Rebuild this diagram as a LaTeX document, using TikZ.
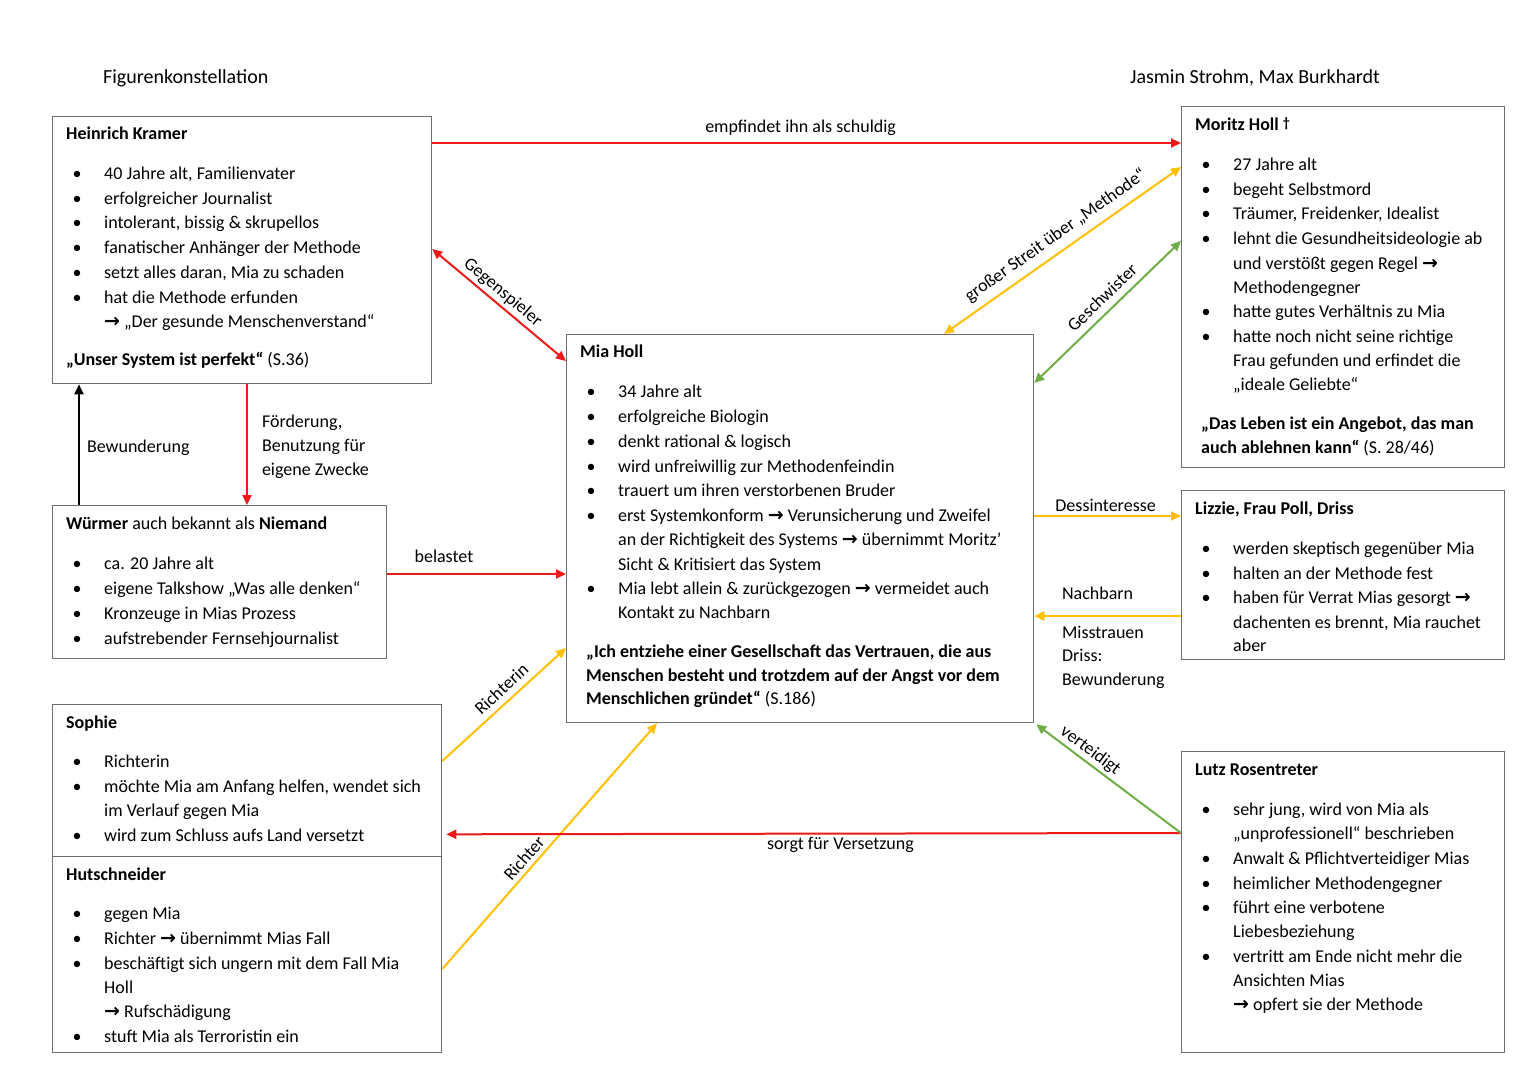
\documentclass[tikz,border=0pt]{standalone}
\usepackage{fontspec}
\setmainfont{Carlito}
\newfontfamily\djv{DejaVu Sans}
\usetikzlibrary{arrows.meta}
\definecolor{cred}{RGB}{238,26,26}
\definecolor{cyel}{RGB}{255,192,0}
\definecolor{cgrn}{RGB}{112,173,71}
\definecolor{cbox}{RGB}{110,110,110}
\newcommand\fs{\fontsize{18}{24.5}\selectfont}
\newcommand\arr{{\djv\bfseries\fontsize{19}{19}\selectfont →}}
\newcounter{tn}
\newcommand\Ttl[3]{\stepcounter{tn}\node[txt,font=\fs\bfseries] (t\arabic{tn}) at (#1+14,#2) {#3};}
\newcommand\Bul[3]{\stepcounter{tn}\node[txt,anchor=base] (b\arabic{tn}) at (#1+25,#2) {\textbullet};\node[txt] (t\arabic{tn}) at (#1+52,#2) {#3};}
\newcommand\Con[3]{\stepcounter{tn}\node[txt] (t\arabic{tn}) at (#1+52,#2) {#3};}
\newcommand\Quo[3]{\stepcounter{tn}\node[txt] (t\arabic{tn}) at (#1,#2) {#3};}
\begin{document}
\begin{tikzpicture}[x=1pt,y=-1pt,
  txt/.style={inner sep=0, anchor=base west, font=\fs, text=black},
  lab/.style={inner sep=0, font=\fs, text=black},
  box/.style={draw=cbox, line width=1.3pt, inner sep=0, anchor=north west},
  conn/.style={line width=2pt, -{Triangle[length=10pt,width=9pt]}},
  bi/.style={line width=2pt, {Triangle[length=10pt,width=9pt]}-{Triangle[length=10pt,width=9pt]}}]
\fill[white] (0,0) rectangle (1527,1080);
\useasboundingbox (0,0) rectangle (1527,1080);

% header
\node[lab, anchor=base west, font=\fontsize{20}{24}\selectfont] (h1) at (103,83) {Figurenkonstellation};
\node[lab, anchor=base west, font=\fontsize{20}{24}\selectfont] (h2) at (1130,83) {Jasmin Strohm, Max Burkhardt};

% boxes
\node[box, minimum width=379pt, minimum height=267pt] (hk) at (52,116) {};
\node[box, minimum width=323pt, minimum height=361pt] (mh) at (1181,106) {};
\node[box, minimum width=467pt, minimum height=388pt] (mia) at (566,334) {};
\node[box, minimum width=334pt, minimum height=153pt] (wu) at (52,505) {};
\node[box, minimum width=323pt, minimum height=169pt] (lz) at (1181,490) {};
\node[box, minimum width=389pt, minimum height=152pt] (so) at (52,704) {};
\node[box, minimum width=389pt, minimum height=196pt] (hu) at (52,856) {};
\node[box, minimum width=323pt, minimum height=301pt] (lu) at (1181,751) {};

% Heinrich Kramer
\Ttl{52}{139}{Heinrich Kramer}
\Bul{52}{179}{40 Jahre alt, Familienvater}
\Bul{52}{204}{erfolgreicher Journalist}
\Bul{52}{228}{intolerant, bissig \& skrupellos}
\Bul{52}{253}{fanatischer Anhänger der Methode}
\Bul{52}{278}{setzt alles daran, Mia zu schaden}
\Bul{52}{303}{hat die Methode erfunden}
\Con{52}{327}{\arr{} „Der gesunde Menschenverstand“}
\Quo{66}{365}{\textbf{„Unser System ist perfekt“} (S.36)}

% Moritz Holl
\Ttl{1181}{130}{Moritz Holl \raisebox{2.5pt}{\fontsize{14}{14}\selectfont\bfseries †}}
\Bul{1181}{170}{27 Jahre alt}
\Bul{1181}{195}{begeht Selbstmord}
\Bul{1181}{219}{Träumer, Freidenker, Idealist}
\Bul{1181}{244}{lehnt die Gesundheitsideologie ab}
\Con{1181}{269}{und verstößt gegen Regel \arr}
\Con{1181}{293}{Methodengegner}
\Bul{1181}{317}{hatte gutes Verhältnis zu Mia}
\Bul{1181}{342}{hatte noch nicht seine richtige}
\Con{1181}{366}{Frau gefunden und erfindet die}
\Con{1181}{390}{„ideale Geliebte“}
\Quo{1201}{429}{\textbf{„Das Leben ist ein Angebot, das man}}
\Quo{1201}{453}{\textbf{auch ablehnen kann“} (S. 28/46)}

% Mia Holl
\Ttl{566}{357}{Mia Holl}
\Bul{566}{397}{34 Jahre alt}
\Bul{566}{422}{erfolgreiche Biologin}
\Bul{566}{447}{denkt rational \& logisch}
\Bul{566}{472}{wird unfreiwillig zur Methodenfeindin}
\Bul{566}{496}{trauert um ihren verstorbenen Bruder}
\Bul{566}{521}{erst Systemkonform \arr{} Verunsicherung und Zweifel}
\Con{566}{545}{an der Richtigkeit des Systems \arr{} übernimmt Moritz’}
\Con{566}{570}{Sicht \& Kritisiert das System}
\Bul{566}{594}{Mia lebt allein \& zurückgezogen \arr{} vermeidet auch}
\Con{566}{618}{Kontakt zu Nachbarn}
\Quo{586}{657}{\textbf{„Ich entziehe einer Gesellschaft das Vertrauen, die aus}}
\Quo{586}{681}{\textbf{Menschen besteht und trotzdem auf der Angst vor dem}}
\Quo{586}{704}{\textbf{Menschlichen gründet“} (S.186)}

% Wuermer
\Quo{66}{529}{\textbf{Würmer} auch bekannt als \textbf{Niemand}}
\Bul{52}{569}{ca. 20 Jahre alt}
\Bul{52}{594}{eigene Talkshow „Was alle denken“}
\Bul{52}{619}{Kronzeuge in Mias Prozess}
\Bul{52}{644}{aufstrebender Fernsehjournalist}

% Lizzie
\Ttl{1181}{514}{Lizzie, Frau Poll, Driss}
\Bul{1181}{554}{werden skeptisch gegenüber Mia}
\Bul{1181}{579}{halten an der Methode fest}
\Bul{1181}{603}{haben für Verrat Mias gesorgt \arr}
\Con{1181}{628}{dachenten es brennt, Mia rauchet}
\Con{1181}{651}{aber}

% Sophie
\Ttl{52}{728}{Sophie}
\Bul{52}{767}{Richterin}
\Bul{52}{792}{möchte Mia am Anfang helfen, wendet sich}
\Con{52}{816}{im Verlauf gegen Mia}
\Bul{52}{841}{wird zum Schluss aufs Land versetzt}

% Hutschneider
\Ttl{52}{880}{Hutschneider}
\Bul{52}{919}{gegen Mia}
\Bul{52}{944}{Richter \arr{} übernimmt Mias Fall}
\Bul{52}{969}{beschäftigt sich ungern mit dem Fall Mia}
\Con{52}{993}{Holl}
\Con{52}{1017}{\arr{} Rufschädigung}
\Bul{52}{1042}{stuft Mia als Terroristin ein}

% Lutz
\Ttl{1181}{775}{Lutz Rosentreter}
\Bul{1181}{815}{sehr jung, wird von Mia als}
\Con{1181}{839}{„unprofessionell“ beschrieben}
\Bul{1181}{864}{Anwalt \& Pflichtverteidiger Mias}
\Bul{1181}{889}{heimlicher Methodengegner}
\Bul{1181}{913}{führt eine verbotene}
\Con{1181}{937}{Liebesbeziehung}
\Bul{1181}{962}{vertritt am Ende nicht mehr die}
\Con{1181}{986}{Ansichten Mias}
\Con{1181}{1010}{\arr{} opfert sie der Methode}

% connectors
\draw[cred,conn] ([yshift=-27pt]hk.north east) -- node[lab,pos=.492,anchor=base,yshift=11pt] (l1) {empfindet ihn als schuldig} ([yshift=-37pt]mh.north west);
\draw[cred,bi] ([yshift=-133pt]hk.north east) -- node[lab,sloped,above=3pt,pos=.47] (l2) {Gegenspieler} ([yshift=-27pt]mia.north west);
\draw[cyel,bi] ([xshift=378pt]mia.north west) -- node[lab,sloped,above=7pt,pos=.51] (l3) {großer Streit über „Methode“} ([yshift=-61pt]mh.north west);
\draw[cgrn,bi] ([yshift=-49pt]mia.north east) -- node[lab,sloped,above=7pt,pos=.53] (l4) {Geschwister} ([yshift=-135pt]mh.north west);
\draw[black,conn] ([xshift=27pt]wu.north west) -- node[lab,anchor=west,xshift=7pt,pos=.475] (l5) {Bewunderung} ([xshift=27pt]hk.south west);
\draw[cred,conn] ([xshift=195pt]hk.south west) --
  node[lab,pos=0,anchor=base west,xshift=14pt,yshift=-43pt] (l6) {Förderung,}
  node[lab,pos=0,anchor=base west,xshift=14pt,yshift=-67pt] (l7) {Benutzung für}
  node[lab,pos=0,anchor=base west,xshift=14pt,yshift=-91pt] (l8) {eigene Zwecke}
  ([xshift=195pt]wu.north west);
\draw[cred,conn] ([yshift=-69pt]wu.north east) -- node[lab,pos=.317,anchor=base,yshift=12pt] (l9) {belastet} ([yshift=-240pt]mia.north west);
\draw[cyel,conn] ([yshift=-182pt]mia.north east) -- node[lab,pos=.486,anchor=base,yshift=5pt] (l10) {Dessinteresse} ([yshift=-26pt]lz.north west);
\draw[cyel,conn] ([yshift=-126pt]lz.north west) --
  node[lab,pos=.8176,anchor=base west,yshift=17pt] (l11) {Nachbarn}
  node[lab,pos=.8176,anchor=base west,yshift=-22pt] (l12) {Misstrauen}
  node[lab,pos=.8176,anchor=base west,yshift=-45pt] (l13) {Driss:}
  node[lab,pos=.8176,anchor=base west,yshift=-69pt] (l14) {Bewunderung}
  ([yshift=-282pt]mia.north east);
\draw[cyel,conn] ([yshift=-57pt]so.north east) -- node[lab,sloped,above=6pt,pos=.55] (l15) {Richterin} ([yshift=-314pt]mia.north west);
\draw[cyel,conn] ([yshift=-113pt]hu.north east) -- node[lab,sloped,above=4pt,pos=.42] (l16) {Richter} ([xshift=91pt]mia.south west);
\draw[cred,conn] ([yshift=-82pt]lu.north west) -- node[lab,pos=.4635,anchor=base,yshift=-16pt] (l17) {sorgt für Versetzung} ([xshift=4pt,yshift=23pt]so.south east);
\draw[cgrn,line width=2pt,{Triangle[length=10pt,width=9pt]}-] ([xshift=2pt,yshift=-1pt]mia.south east) -- node[lab,sloped,above=2.5pt,pos=.326] (l18) {verteidigt} ([yshift=-82pt]lu.north west);
\end{tikzpicture}
\end{document}
